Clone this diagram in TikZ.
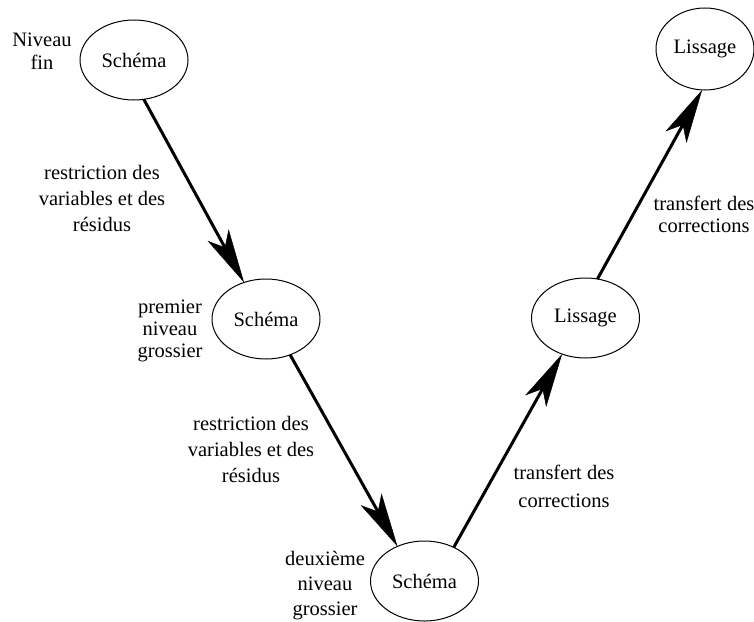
\documentclass[tikz,border=0pt]{standalone}
\usepackage{fontspec}
\setmainfont{Liberation Serif}
\usetikzlibrary{shapes.geometric,arrows.meta}
\begin{document}
\begin{tikzpicture}[x=1pt,y=-1pt,
  stage/.style={ellipse,draw,line width=1pt,inner sep=0pt,outer sep=0pt,
    minimum width=108pt,minimum height=80pt,font=\fontsize{20.5}{24}\selectfont},
  flow/.style={line width=3pt,-{Stealth[length=54pt,width=24pt,inset=14pt,line width=0.5pt]}},
  lbl/.style={align=center,inner sep=0pt,font=\fontsize{20.5}{#1}\selectfont},
  lbl/.default=24]
\useasboundingbox (0,0) rectangle (754,621);
% stages
\node[stage] (e1) at (134,60) {Schéma};
\node[stage] (e2) at (266,319) {Schéma};
\node[stage] (e3) at (424.5,581) {Schéma};
\node[stage] (e4) at (585.5,318) {Lissage};
\node[stage,minimum width=98pt,minimum height=82pt] (e5) at (705,49) {Lissage};
% connectors
\draw[flow] (e1.-76) -- (e2.121);
\draw[flow] (e2.-56) -- (e3.128);
\draw[flow] (e3.49) -- (e4.-123);
\draw[flow] (e4.73) -- (e5.-94);
% labels
\node[lbl=23] (niv) at (42,51) {Niveau\\fin};
\node[lbl=26] (r1) at (102,198) {restriction des\\variables et des\\résidus};
\node[lbl=22] (prem) at (170,331) {premier\\niveau\\grossier};
\node[lbl=26] (r2) at (251,449) {restriction des\\variables et des\\résidus};
\node[lbl=28] (t1) at (564,486) {transfert des\\corrections};
\node[lbl=25] (deux) at (325,586) {deuxième\\niveau\\grossier};
\node[lbl=22] (t2) at (704,214) {transfert des\\corrections};
\end{tikzpicture}
\end{document}
